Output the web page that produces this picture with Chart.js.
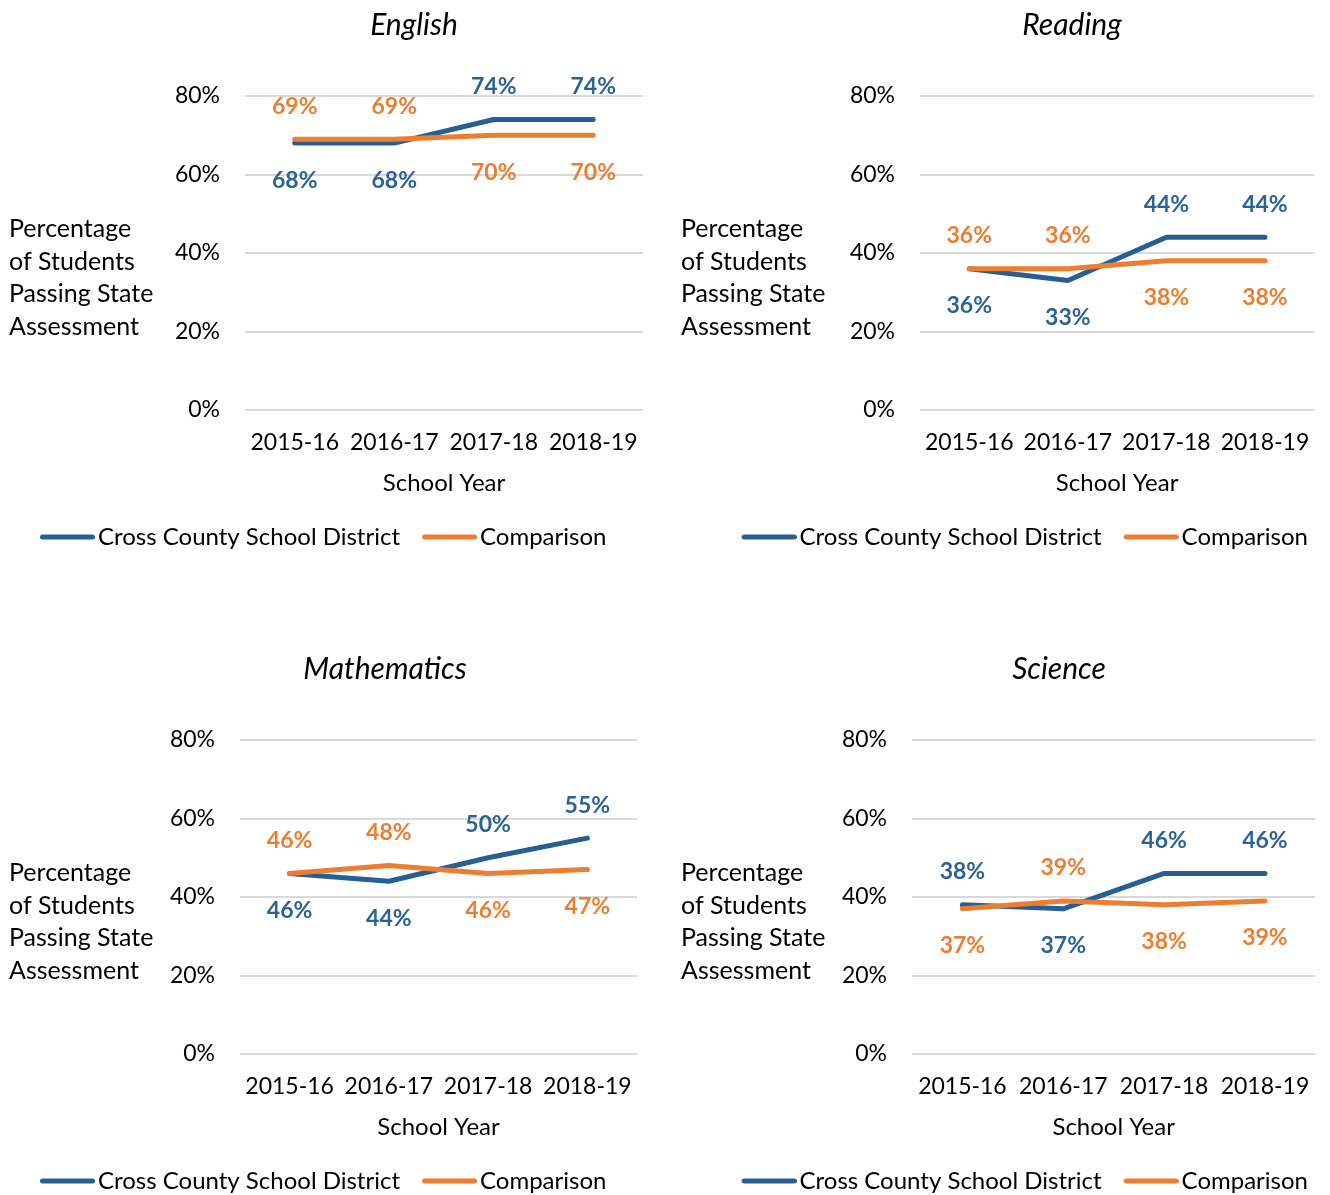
<!DOCTYPE html>
<html>
<head>
<meta charset="utf-8">
<script src="https://cdn.jsdelivr.net/npm/chart.js@4.4.0/dist/chart.umd.min.js"></script>
<style>
html, body { margin: 0; padding: 0; background: #fff; overflow: hidden; }
.panel { position: absolute; width: 665px; height: 600px; }
</style>
</head>
<body>
<div class="panel" style="left:0;top:0"><canvas id="Chart_english" width="665" height="600"></canvas></div>
<div class="panel" style="left:665px;top:0"><canvas id="Chart_reading" width="665" height="600"></canvas></div>
<div class="panel" style="left:0;top:644px"><canvas id="Chart_math" width="665" height="600"></canvas></div>
<div class="panel" style="left:665px;top:644px"><canvas id="Chart_science" width="665" height="600"></canvas></div>
<script>
let years=['2015-16','2016-17','2017-18','2018-19'];
let yTicks=[0,20,40,60,80];
let seriesNames=['Cross County School District','Comparison'];
let yCaption=['Percentage','of Students','Passing State','Assessment'];
let xCaption='School Year';

let englishDistrict=[68,68,74,74];
let englishComparison=[69,69,70,70];

let readingDistrict=[36,33,44,44];
let readingComparison=[36,36,38,38];

let mathDistrict=[46,44,50,55];
let mathComparison=[46,48,46,47];

let scienceDistrict=[38,37,46,46];
let scienceComparison=[37,39,38,39];

const BLUE='#265F93';
const BLUE_TEXT='#2B6399';
const ORANGE='#ED7D31';
const FONT='Lato, "Open Sans", sans-serif';

Chart.defaults.font.family=FONT;
Chart.defaults.color='#000';

// legend swatch: a 55px rounded line that sits close to its text
function legendLine(color) {
    const c=document.createElement('canvas');
    c.width=64;
    c.height=8;
    const g=c.getContext('2d');
    g.strokeStyle=color;
    g.lineWidth=5;
    g.lineCap='round';
    g.beginPath();
    g.moveTo(9+2.5,4);
    g.lineTo(64-2.5,4);
    g.stroke();
    return c;
}

// subject title + horizontal y caption
const panelText={
    id:'panelText',
    afterDraw(chart,args,opts) {
        const ctx=chart.ctx;
        ctx.save();
        ctx.fillStyle='#000';
        ctx.textBaseline='middle';
        ctx.textAlign='center';
        ctx.font='italic 30px '+FONT;
        ctx.fillText(opts.title,opts.titleX,25);
        ctx.textAlign='left';
        ctx.font='25px '+FONT;
        yCaption.forEach(function(line,i) {
            ctx.fillText(line,opts.captionX,229+i*32.7);
        });
        ctx.restore();
    }
};

// value labels above the higher series, below the lower one
const pointLabels={
    id:'pointLabels',
    afterDatasetsDraw(chart) {
        const ctx=chart.ctx;
        const sets=chart.data.datasets;
        ctx.save();
        ctx.font='bold 23px '+FONT;
        ctx.textAlign='center';
        ctx.textBaseline='middle';
        sets.forEach(function(ds,di) {
            const other=sets[1-di].data;
            const meta=chart.getDatasetMeta(di);
            meta.data.forEach(function(pt,i) {
                const v=ds.data[i];
                const above=v>other[i] || (v===other[i] && di===1);
                ctx.fillStyle=ds.labelColor;
                ctx.fillText(v+'%',pt.x,above ? pt.y-33 : pt.y+37);
            });
        });
        ctx.restore();
    }
};

function drawChart(id,title,district,comparison,layout) {
    const chartData={
        labels:years,
        datasets:[
            {
                label:seriesNames[0],
                data:district,
                borderColor:BLUE,
                backgroundColor:BLUE,
                borderWidth:5,
                pointStyle:legendLine(BLUE),
                labelColor:BLUE_TEXT,
                order:1
            },
            {
                label:seriesNames[1],
                data:comparison,
                borderColor:ORANGE,
                backgroundColor:ORANGE,
                borderWidth:5,
                pointStyle:legendLine(ORANGE),
                labelColor:ORANGE,
                order:0
            }
        ]
    };
    new Chart(document.getElementById(id),{
        type:'line',
        data:chartData,
        plugins:[panelText,pointLabels],
        options:{
            responsive:false,
            animation:false,
            devicePixelRatio:1,
            elements:{
                line:{tension:0,borderCapStyle:'round',borderJoinStyle:'round'},
                point:{radius:0,hoverRadius:0}
            },
            layout:{padding:{top:96,left:layout.padLeft,right:0,bottom:41}},
            scales:{
                x:{
                    offset:true,
                    grid:{display:false,drawTicks:false},
                    border:{display:false},
                    ticks:{padding:19,font:{size:23},color:'#000'},
                    title:{display:true,text:xCaption,font:{size:24},color:'#000',padding:{top:0,bottom:5}},
                    afterFit:function(scale){ scale.height=93; }
                },
                y:{
                    min:yTicks[0],
                    max:yTicks[yTicks.length-1],
                    grid:{color:'#D9D9D9',lineWidth:2,drawTicks:false},
                    border:{display:false},
                    ticks:{
                        stepSize:yTicks[1]-yTicks[0],
                        padding:25,
                        font:{size:23},
                        color:'#000',
                        callback:function(v){ return v+'%'; }
                    },
                    afterFit:function(scale){ scale.width=layout.plotLeft-layout.padLeft; }
                },
                // empty axis that only keeps a margin right of the plot
                yRight:{
                    type:'linear',
                    position:'right',
                    grid:{display:false,drawTicks:false},
                    border:{display:false},
                    ticks:{display:false},
                    afterFit:function(scale){ scale.width=665-layout.plotRight; }
                }
            },
            plugins:{
                legend:{
                    position:'bottom',
                    align:layout.legendAlign,
                    labels:{
                        usePointStyle:true,
                        pointStyleWidth:46,
                        padding:22,
                        color:'#000',
                        font:{size:24},
                        sort:function(a,b){ return a.datasetIndex-b.datasetIndex; }
                    }
                },
                tooltip:{enabled:false},
                panelText:{title:title,titleX:layout.titleX,captionX:layout.captionX}
            }
        }
    });
}

drawChart('Chart_english','English',englishDistrict,englishComparison,
    {plotLeft:245,plotRight:643,padLeft:18,legendAlign:'start',titleX:414,captionX:9});
drawChart('Chart_reading','Reading',readingDistrict,readingComparison,
    {plotLeft:255,plotRight:651,padLeft:0,legendAlign:'end',titleX:407,captionX:16});
drawChart('Chart_math','Mathematics',mathDistrict,mathComparison,
    {plotLeft:240,plotRight:637,padLeft:18,legendAlign:'start',titleX:385,captionX:9});
drawChart('Chart_science','Science',scienceDistrict,scienceComparison,
    {plotLeft:247,plotRight:651,padLeft:0,legendAlign:'end',titleX:394,captionX:16});
</script>
</body>
</html>
